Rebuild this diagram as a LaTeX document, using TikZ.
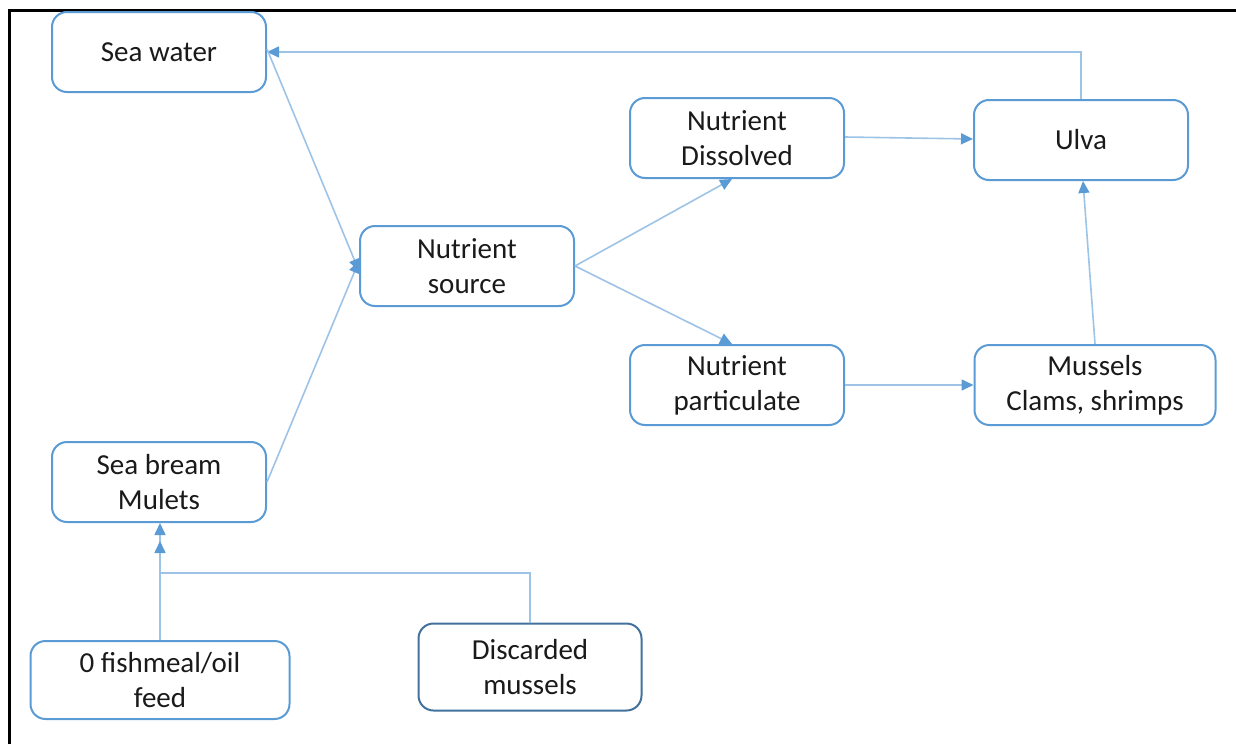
\documentclass[tikz,border=0pt]{standalone}
\usepackage{fontspec}
\setmainfont{Carlito}
\usetikzlibrary{arrows.meta}
\definecolor{boxblue}{HTML}{5B9BD5}
\definecolor{darkbox}{HTML}{41719C}
\definecolor{lineblue}{HTML}{9DC3E6}
\definecolor{txt}{HTML}{1A1A1A}
\begin{document}
\begin{tikzpicture}[x=1pt,y=-1pt,
  box/.style={draw=boxblue,line width=2pt,rounded corners=15pt,fill=white,
    minimum width=#1,minimum height=80pt,inner sep=0pt,align=center,
    text=txt,font=\fontsize{29}{35}\selectfont},
  box/.default=214pt,
  conn/.style={draw=lineblue,line width=1.6pt,
    -{Triangle[length=12pt,width=11pt,color=boxblue]}},
  plain/.style={draw=lineblue,line width=1.6pt}]
\useasboundingbox (0,0) rectangle (1236,744);
\draw[line width=3pt,black] (9,744) -- (9,10.5) -- (1236,10.5);

\node[box] (sw) at (159,52) {Sea water};
\node[box] (ns) at (467,266) {Nutrient\\source};
\node[box] (nd) at (737,138) {Nutrient\\Dissolved};
\node[box] (ulva) at (1081,140) {Ulva};
\node[box] (np) at (737,385) {Nutrient\\particulate};
\node[box=241pt] (mus) at (1095,385) {Mussels\\Clams, shrimps};
\node[box] (sb) at (159,482) {Sea bream\\Mulets};
\node[box=259pt,minimum height=78pt] (fm) at (160,680) {0 fishmeal/oil\\feed};
\node[box=223pt,minimum height=87pt,draw=darkbox] (dm) at (530,667) {Discarded\\mussels};

\coordinate (topy) at (1081,52);
\coordinate (joint) at (160,573);
\coordinate (dmup) at (530,573);

\draw[conn] (ulva.north) -- (topy) -- (sw.east);
\draw[conn] ([yshift=3pt]sw.east) -- ([yshift=-5pt]ns.west);
\draw[conn] (sb.east) -- ([yshift=5pt]ns.west);
\draw[conn] (ns.east) -- ([xshift=-5pt]nd.south);
\draw[conn] (ns.east) -- ([xshift=-5pt]np.north);
\draw[conn] ([yshift=1pt]nd.east) -- ([yshift=1pt]ulva.west);
\draw[conn] (np.east) -- (mus.west);
\draw[conn] (mus.north) -- ([xshift=2pt]ulva.south);
\draw[conn] (fm.north) -- ([xshift=1pt]sb.south);
\draw[plain] (dm.north) -- (dmup) -- (joint);
\draw[conn,shorten >=18pt] (joint) -- ([xshift=1pt]sb.south);
\end{tikzpicture}
\end{document}
